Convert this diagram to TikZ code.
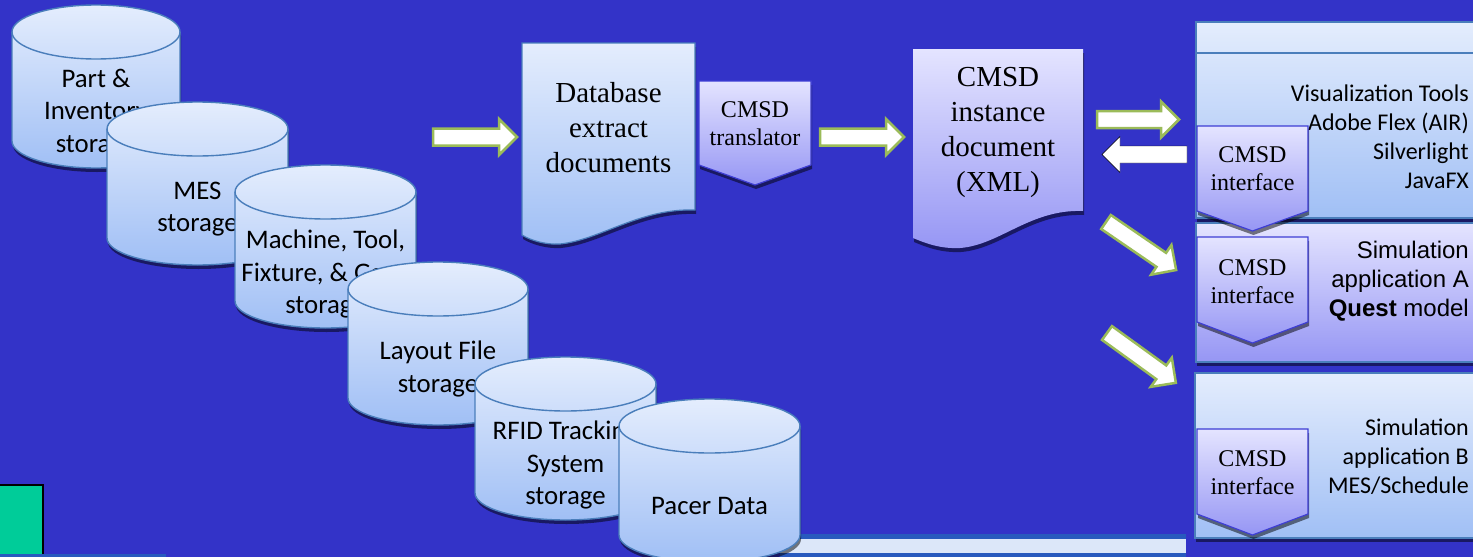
\documentclass[tikz,border=0pt]{standalone}
\usepackage{fontspec}
\setmainfont{Liberation Serif}
\newfontfamily\calibri{Carlito}
\newfontfamily\arialf{Liberation Sans}
\usetikzlibrary{shadows}
\definecolor{bg}{RGB}{51,51,200}
\definecolor{cyltop}{RGB}{228,237,253}
\definecolor{cylbot}{RGB}{160,191,245}
\definecolor{cylline}{RGB}{74,126,187}
\definecolor{lavtop}{RGB}{228,228,255}
\definecolor{lavbot}{RGB}{150,150,244}
\definecolor{lavline}{RGB}{62,62,212}
\definecolor{arrowgreen}{RGB}{155,187,89}
\definecolor{tealbox}{RGB}{0,204,153}
\definecolor{barlight}{RGB}{220,231,249}
\definecolor{bardark}{RGB}{40,90,190}
\tikzset{
  shd/.style={drop shadow={shadow xshift=1pt, shadow yshift=-4pt, opacity=0.5, fill=black}},
  cylbody/.style={top color=cyltop, bottom color=cylbot, draw=cylline, line width=1.4pt, shd},
  cyltext/.style={align=center, inner sep=0pt, font=\calibri\fontsize{26.8}{32.5}\selectfont},
  bluedoc/.style={top color=cyltop, bottom color=cylbot, draw=cylline, line width=1.2pt, shd},
  lavdoc/.style={top color=lavtop, bottom color=lavbot, shd},
  lavpent/.style={top color=lavtop, bottom color=lavbot, draw=lavline, line width=1.2pt, shd},
  serifbig/.style={align=center, inner sep=0pt, font=\fontsize{29}{35}\selectfont},
  serifsmall/.style={align=center, inner sep=0pt, font=\fontsize{24}{27.5}\selectfont},
  bluebox/.style={top color=cyltop, bottom color=cylbot, draw=cylline, line width=1.4pt, shd},
  lavbox/.style={top color=lavtop, bottom color=lavbot, draw=cylline, line width=1.4pt, shd},
  garrow/.style={fill=white, draw=arrowgreen, line width=2.5pt, line join=miter},
  warrow/.style={fill=white},
  righttext/.style={align=right, anchor=east, inner sep=0pt},
}
% cylinder: name, left, top, width, text centre y, text
\newcommand{\dbcyl}[6]{%
  \pgfmathsetmacro\cylrx{#4/2}%
  \path[cylbody] (#2,#3+27) -- (#2,#3+136)
     arc[start angle=180, end angle=360, x radius=\cylrx pt, y radius=27pt]
     -- (#2+#4,#3+27)
     arc[start angle=0, end angle=180, x radius=\cylrx pt, y radius=27pt] -- cycle;
  \draw[cylline, line width=1.4pt] (#2,#3+27)
     arc[start angle=180, end angle=360, x radius=\cylrx pt, y radius=27pt];
  \node[cyltext] (#1) at (#2+\cylrx,#5) {#6};%
}
% block arrow: style, tail x, tail y, angle, length
\newcommand{\blockarrow}[5]{%
  \draw[#1, shift={(#2,#3)}, rotate=#4] (0pt,-8.5pt) -- ({#5pt-18pt},-8.5pt)
     -- ({#5pt-18pt},-18pt) -- (#5pt,0pt) -- ({#5pt-18pt},18pt)
     -- ({#5pt-18pt},8.5pt) -- (0pt,8.5pt) -- cycle;%
}
\begin{document}
\begin{tikzpicture}[x=1pt, y=-1pt]
\useasboundingbox (0,0) rectangle (1473,557);
\clip (0,0) rectangle (1473,557);
\fill[bg] (-5,-5) rectangle (1480,562);

% bottom-left teal box and strip
\fill[tealbox] (-5,485) rectangle (43,562);
\draw[black, line width=2pt] (-5,485) -- (43,485) -- (43,562);
\draw[bardark, line width=2.5pt] (0,555.5) -- (166,555.5);

% window bar at the bottom
\fill[bardark] (780,534) rectangle (1186,562);
\fill[barlight] (780,538.5) rectangle (1186,553);

% cylinders
\dbcyl{c1}{12}{5}{168}{113}{Part \&\\Inventory\\storage}
\dbcyl{c2}{107}{102}{181}{209}{MES\\storage}
\dbcyl{c3}{235}{165}{181}{274}{Machine, Tool,\\Fixture, \& Gage\\storage}
\dbcyl{c4}{348}{262}{180}{369}{Layout File\\storage}
\dbcyl{c5}{475}{357}{181}{465}{RFID Tracking\\System\\storage}
\dbcyl{c6}{619}{399}{181}{506}{Pacer Data}

% database extract document
\path[bluedoc] (522,43) -- (695,43) -- (695,210)
   .. controls (640,208) and (600,240) .. (560,244)
   .. controls (545,245) and (530,240) .. (522,235) -- cycle;
\node[serifbig] (dbx) at (608.5,128) {Database\\extract\\documents};

% CMSD translator
\path[lavpent] (699,81) -- (811,81) -- (811,165) -- (755,185) -- (699,165) -- cycle;
\node[serifsmall] (tr) at (755,123.5) {CMSD\\translator};

% CMSD instance document
\path[lavdoc] (913,49) -- (1083,49) -- (1083,211)
   .. controls (1030,209) and (1000,245) .. (960,248)
   .. controls (940,249) and (925,243) .. (913,238) -- cycle;
\node[serifbig] (xml) at (998,132.5) {CMSD\\instance\\document\\(XML)};

% arrows
\blockarrow{garrow}{433}{137}{0}{84}
\blockarrow{garrow}{820}{137}{0}{84}
\blockarrow{garrow}{1097}{119.5}{0}{82}
\blockarrow{warrow}{1187}{154.5}{180}{85}
\blockarrow{garrow}{1106}{222}{-34.4}{85}
\blockarrow{garrow}{1107}{333}{-35.9}{85}

% right-hand boxes
\path[bluebox] (1196,22) rectangle (1490,218);
\draw[cylline, line width=1.4pt] (1196,53) -- (1490,53);
\node[righttext, font=\calibri\fontsize{24}{29}\selectfont] (vis) at (1469,137)
  {Visualization Tools\\Adobe Flex (AIR)\\Silverlight\\JavaFX};

\path[lavbox] (1196,223) rectangle (1490,362);
\node[righttext, font=\arialf\fontsize{24}{29}\selectfont] (simA) at (1469,281.5)
  {Simulation\\application A\\\textbf{Quest} model};

\path[bluebox] (1195,373) rectangle (1490,538);
\node[righttext, font=\calibri\fontsize{24}{29}\selectfont] (simB) at (1469,457)
  {Simulation\\application B\\MES/Schedule};

% CMSD interfaces
\path[lavpent] (1197,126) -- (1308,126) -- (1308,211) -- (1252.5,231) -- (1197,211) -- cycle;
\node[serifsmall, font=\fontsize{24}{28}\selectfont] (ifv) at (1252.5,169) {CMSD\\interface};
\path[lavpent] (1197,237) -- (1308,237) -- (1308,322) -- (1252.5,343) -- (1197,322) -- cycle;
\node[serifsmall, font=\fontsize{24}{28}\selectfont] (ifa) at (1252.5,282) {CMSD\\interface};
\path[lavpent] (1197,429) -- (1308,429) -- (1308,514) -- (1252.5,535) -- (1197,514) -- cycle;
\node[serifsmall, font=\fontsize{24}{28}\selectfont] (ifb) at (1252.5,472.5) {CMSD\\interface};
\end{tikzpicture}
\end{document}
